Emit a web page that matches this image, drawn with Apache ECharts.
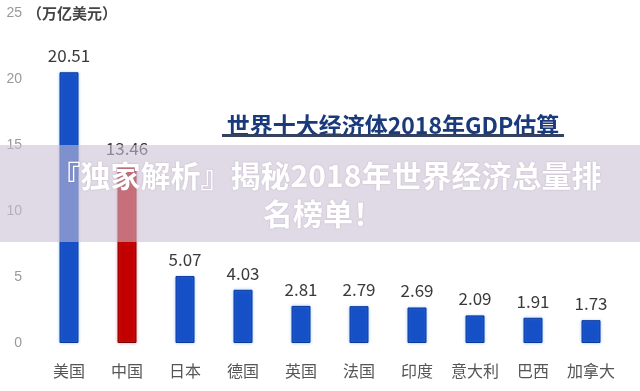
<!DOCTYPE html>
<html>
<head>
<meta charset="utf-8">
<script src="https://cdn.jsdelivr.net/npm/echarts@6/dist/echarts.min.js"></script>
<style>
html,body{margin:0;padding:0;background:#fff;}
#c{width:640px;height:391px;}
</style>
</head>
<body>
<div id="c"></div>
<script>
const categories = ['美国','中国','日本','德国','英国','法国','印度','意大利','巴西','加拿大'];
const gdpValues = [20.51, 13.46, 5.07, 4.03, 2.81, 2.79, 2.69, 2.09, 1.91, 1.73];
const highlightCategory = '中国';
const yTicks = [0, 5, 10, 15, 20, 25];
const unitText = '（万亿美元）';
const chartTitle = '世界十大经济体2018年GDP估算';
const bannerLines = ['『独家解析』揭秘2018年世界经济总量排', '名榜单！'];

const FONT = '"Noto Sans CJK SC", "Noto Sans", sans-serif';
const blueStyle = {color: '#1650c6', borderColor: '#0c3a9c', borderWidth: 1, shadowColor: 'rgba(80,150,255,0.45)', shadowBlur: 3};
const redStyle = {color: '#c20000', borderColor: '#7a0000', borderWidth: 1, shadowColor: 'rgba(255,90,90,0.5)', shadowBlur: 3};

const barData = gdpValues.map((v, i) => ({
  value: v,
  itemStyle: categories[i] === highlightCategory ? redStyle : blueStyle
}));

const chart = echarts.init(document.getElementById('c'), null, {renderer: 'canvas'});
chart.setOption({
  animation: false,
  grid: {left: 40, right: 20, top: 13, bottom: 48},
  xAxis: {
    type: 'category',
    data: categories,
    axisLine: {show: false},
    axisTick: {show: false},
    axisLabel: {color: '#555', fontSize: 16, fontFamily: FONT, margin: 20, interval: 0}
  },
  yAxis: {
    type: 'value',
    min: yTicks[0],
    max: yTicks[yTicks.length - 1],
    interval: yTicks[1] - yTicks[0],
    name: unitText,
    nameLocation: 'end',
    nameGap: 0,
    nameMoveOverlap: false,
    nameTextStyle: {color: '#444', fontSize: 15, fontWeight: 'bold', fontFamily: FONT, align: 'left', verticalAlign: 'middle', padding: [0, 0, 0, -13]},
    axisLine: {show: false},
    axisTick: {show: false},
    splitLine: {show: false},
    axisLabel: {color: '#999', fontSize: 14, margin: 18, showMaxLabel: true}
  },
  series: [{
    type: 'bar',
    data: barData,
    barWidth: 19,
    label: {
      show: true,
      position: 'top',
      distance: 8,
      color: '#3a3a3a',
      fontSize: 17,
      fontFamily: FONT,
      formatter: p => p.value.toFixed(2)
    }
  }],
  graphic: [
    {
      type: 'text', x: 393, y: 125, z: 50,
      style: {text: chartTitle, fill: '#1b3a7c', font: 'bold 23px ' + FONT, textAlign: 'center', textVerticalAlign: 'middle'}
    },
    {
      type: 'rect', z: 50,
      shape: {x: 222, y: 134, width: 342, height: 3},
      style: {fill: '#34425f'}
    },
    {
      type: 'rect', z: 100,
      shape: {x: 0, y: 145, width: 640, height: 97},
      style: {fill: 'rgba(201,191,212,0.58)'}
    },
    {
      type: 'text', x: 326, y: 176, z: 101,
      style: {text: bannerLines[0], fill: '#ffffff', font: 'bold 30px ' + FONT, textAlign: 'center', textVerticalAlign: 'middle',
        textShadowColor: 'rgba(120,110,130,0.35)', textShadowBlur: 2}
    },
    {
      type: 'text', x: 323, y: 214, z: 101,
      style: {text: bannerLines[1], fill: '#ffffff', font: 'bold 30px ' + FONT, textAlign: 'center', textVerticalAlign: 'middle',
        textShadowColor: 'rgba(120,110,130,0.35)', textShadowBlur: 2}
    }
  ]
});
</script>
</body>
</html>
